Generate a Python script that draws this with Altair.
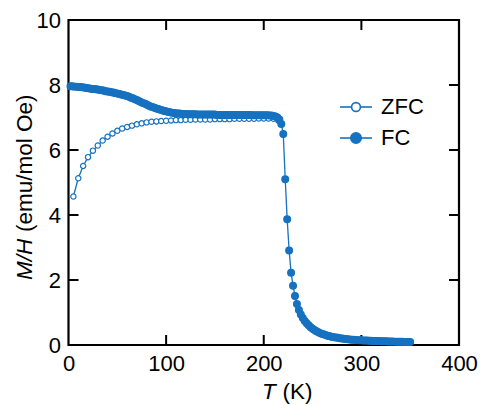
import altair as alt
import pandas as pd

BLUE = "#1672c0"
FONT = "Liberation Sans"

# ZFC (open circles)
zfc_T = [5, 10, 15, 20, 25, 30, 35, 40, 45, 50, 55, 60, 65, 70, 75, 80, 85, 90, 95, 100,
         105, 110, 115, 120, 125, 130, 135, 140, 145, 150, 155, 160, 165, 170, 175, 180,
         185, 190, 195, 200, 205, 210, 215]
zfc_M = [4.57, 5.13, 5.51, 5.78, 5.98, 6.14, 6.29, 6.41, 6.51, 6.59, 6.66, 6.71, 6.75, 6.79,
         6.82, 6.85, 6.87, 6.88, 6.89, 6.90, 6.91, 6.92, 6.92, 6.93, 6.93, 6.94, 6.94, 6.94,
         6.94, 6.95, 6.95, 6.95, 6.95, 6.96, 6.96, 6.96, 6.96, 6.96, 6.97, 6.97, 6.97, 6.96, 6.90]

# FC (filled circles)
fc_T = [2, 4, 6, 8, 10, 12, 14, 16, 18, 20, 22, 24, 26, 28, 30, 32, 34, 36, 38, 40,
        42, 44, 46, 48, 50, 52, 54, 56, 58, 60, 62, 64, 66, 68, 70, 72, 74, 76, 78, 80,
        82, 84, 86, 88, 90, 92, 94, 96, 98, 100, 102, 104, 106, 108, 110, 112, 114, 116, 118, 120,
        122, 124, 126, 128, 130, 132, 134, 136, 138, 140, 142, 144, 146, 148, 150, 152, 154, 156, 158, 160,
        162, 164, 166, 168, 170, 172, 174, 176, 178, 180, 182, 184, 186, 188, 190, 192, 194, 196, 198, 200,
        202, 204, 206, 208, 210, 212, 214, 216, 218, 220, 222, 224, 226, 228, 230, 232, 234, 236, 238, 240,
        242, 244, 246, 248, 250, 252, 254, 256, 258, 260, 262, 264, 266, 268, 270, 272, 274, 276, 278, 280,
        282, 284, 286, 288, 290, 292, 294, 296, 298, 300, 302, 304, 306, 308, 310, 312, 314, 316, 318, 320,
        322, 324, 326, 328, 330, 332, 334, 336, 338, 340, 342, 344, 346, 348, 350]
fc_M = [7.96, 7.96, 7.95, 7.95, 7.94, 7.94, 7.93, 7.92, 7.91, 7.90, 7.89, 7.88, 7.88, 7.87, 7.86,
        7.85, 7.84, 7.83, 7.81, 7.80, 7.79, 7.78, 7.77, 7.75, 7.74, 7.72, 7.71, 7.69, 7.68, 7.66,
        7.64, 7.61, 7.59, 7.56, 7.54, 7.51, 7.48, 7.45, 7.43, 7.40, 7.37, 7.34, 7.32, 7.30, 7.28,
        7.26, 7.24, 7.22, 7.20, 7.19, 7.17, 7.16, 7.15, 7.14, 7.13, 7.12, 7.12, 7.11, 7.11, 7.11,
        7.10, 7.10, 7.10, 7.10, 7.10, 7.09, 7.09, 7.09, 7.09, 7.09, 7.09, 7.09, 7.09, 7.09, 7.09,
        7.08, 7.08, 7.08, 7.08, 7.08, 7.08, 7.08, 7.08, 7.08, 7.08, 7.08, 7.08, 7.08, 7.08, 7.08,
        7.08, 7.08, 7.08, 7.07, 7.07, 7.07, 7.07, 7.07, 7.07, 7.07, 7.07, 7.07, 7.06, 7.06, 7.05,
        7.03, 7.00, 6.94, 6.80, 6.49, 5.10, 3.87, 2.91, 2.22, 1.82, 1.51, 1.26, 1.08, 0.94, 0.83,
        0.74, 0.67, 0.61, 0.55, 0.50, 0.46, 0.42, 0.39, 0.36, 0.34, 0.32, 0.30, 0.28, 0.27, 0.25,
        0.24, 0.23, 0.22, 0.21, 0.20, 0.19, 0.185, 0.18, 0.17, 0.165, 0.16, 0.155, 0.15, 0.147, 0.144,
        0.141, 0.138, 0.135, 0.132, 0.129, 0.126, 0.124, 0.122, 0.120, 0.118, 0.116, 0.114, 0.112, 0.110, 0.108,
        0.106, 0.104, 0.102, 0.100, 0.099, 0.098, 0.096, 0.095, 0.094, 0.093]

x_label_values = [0, 100, 200, 300, 400]
y_label_values = [0, 2, 4, 6, 8, 10]
inner_x_ticks = [100, 200, 300]
inner_y_ticks = [2, 4, 6, 8]

W, H = 390.5, 325

zfc_df = pd.DataFrame({"T": zfc_T, "M": zfc_M})
fc_df = pd.DataFrame({"T": fc_T, "M": fc_M})

xs = alt.Scale(domain=[0, 400], nice=False, zero=False)
ys = alt.Scale(domain=[0, 10], nice=False, zero=False)

x_axis = alt.Axis(values=x_label_values, title=None, ticks=False, tickSize=0, domain=False,
                  grid=False, labelFontSize=22, labelFont=FONT, labelColor="black",
                  labelPadding=8, labelFlush=False, labelOverlap=False)
y_axis = alt.Axis(values=y_label_values, title=None, ticks=False, tickSize=0, domain=False,
                  grid=False, labelFontSize=22, labelFont=FONT, labelColor="black",
                  labelPadding=8, labelFlush=False, labelOverlap=False)

X = alt.X("T:Q", scale=xs, axis=x_axis)
Y = alt.Y("M:Q", scale=ys, axis=y_axis)

# inward ticks on all four sides
xt_df = pd.DataFrame({"T": inner_x_ticks})
yt_df = pd.DataFrame({"M": inner_y_ticks})
tick_kw = dict(color="black", thickness=2, size=10, opacity=1)
bottom_ticks = alt.Chart(xt_df).mark_tick(orient="vertical", **tick_kw).encode(
    x=X, y=alt.value(H - 5))
top_ticks = alt.Chart(xt_df).mark_tick(orient="vertical", **tick_kw).encode(
    x=X, y=alt.value(5))
left_ticks = alt.Chart(yt_df).mark_tick(orient="horizontal", **tick_kw).encode(
    y=Y, x=alt.value(5))
right_ticks = alt.Chart(yt_df).mark_tick(orient="horizontal", **tick_kw).encode(
    y=Y, x=alt.value(W - 5))

# data
zfc_line = alt.Chart(zfc_df).mark_line(color=BLUE, strokeWidth=1.3).encode(x=X, y=Y)
fc_line = alt.Chart(fc_df).mark_line(color=BLUE, strokeWidth=1.3).encode(x=X, y=Y)
zfc_pts = alt.Chart(zfc_df).mark_point(
    filled=True, fill="white", stroke=BLUE, strokeWidth=1.2, size=28, opacity=1
).encode(x=X, y=Y)
fc_pts = alt.Chart(fc_df).mark_point(
    filled=True, fill=BLUE, stroke=BLUE, strokeWidth=1.2, size=46, opacity=1
).encode(x=X, y=Y)

# axis titles with mixed italic
xt_it = alt.Chart(pd.DataFrame({"s": ["T"]})).mark_text(
    font=FONT, fontSize=22.5, fontStyle="italic", align="left", baseline="alphabetic", color="black"
).encode(text="s:N", x=alt.value(193.5), y=alt.value(379))
xt_rm = alt.Chart(pd.DataFrame({"s": ["(K)"]})).mark_text(
    font=FONT, fontSize=22.5, align="left", baseline="alphabetic", color="black"
).encode(text="s:N", x=alt.value(214), y=alt.value(379))
yt_it = alt.Chart(pd.DataFrame({"s": ["M/H"]})).mark_text(
    font=FONT, fontSize=22.5, fontStyle="italic", align="left", baseline="alphabetic",
    angle=270, color="black"
).encode(text="s:N", x=alt.value(-36.5), y=alt.value(260))
yt_rm = alt.Chart(pd.DataFrame({"s": ["(emu/mol Oe)"]})).mark_text(
    font=FONT, fontSize=22.5, align="left", baseline="alphabetic",
    angle=270, color="black"
).encode(text="s:N", x=alt.value(-36.5), y=alt.value(212))

# legend entries
def legend_entry(name, ypix, fill, size):
    d = pd.DataFrame({"s": [name]})
    ln = alt.Chart(d).mark_rule(color=BLUE, strokeWidth=1.6).encode(
        x=alt.value(271.5), x2=alt.value(303.5), y=alt.value(ypix))
    pt = alt.Chart(d).mark_point(filled=True, fill=fill, stroke=BLUE, strokeWidth=1.6,
                                 size=size, opacity=1).encode(
        x=alt.value(287.5), y=alt.value(ypix))
    tx = alt.Chart(d).mark_text(font=FONT, fontSize=22, align="left", baseline="middle",
                                color="black").encode(
        text="s:N", x=alt.value(312.5), y=alt.value(ypix))
    return [ln, pt, tx]

legend_layers = legend_entry("ZFC", 87, "white", 78) + legend_entry("FC", 118, BLUE, 110)

chart = alt.layer(
    bottom_ticks, top_ticks, left_ticks, right_ticks,
    zfc_line, fc_line, zfc_pts, fc_pts,
    xt_it, xt_rm, yt_it, yt_rm,
    *legend_layers
).properties(
    width=W, height=H,
    padding={"left": 68.5, "top": 20, "right": 21, "bottom": 60},
    autosize=alt.AutoSizeParams(type="none"),
    background="white",
).configure_view(
    stroke="black", strokeWidth=2.2
)

chart.save("out.html", embed_options={"renderer": "svg", "actions": False})
